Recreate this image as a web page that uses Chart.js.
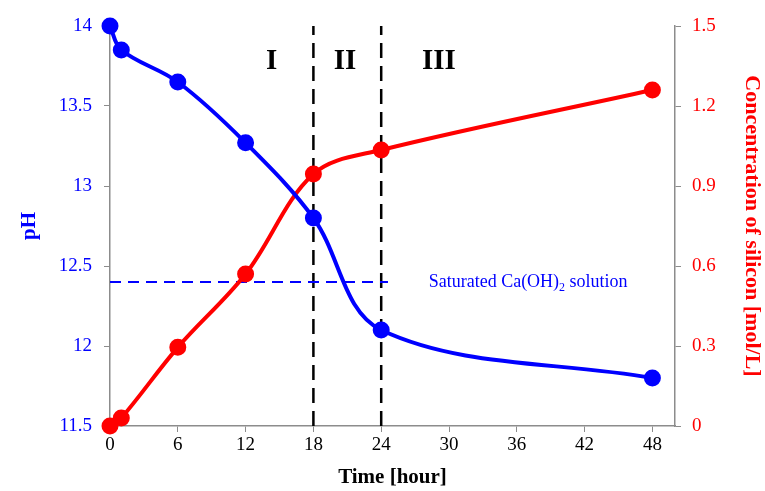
<!DOCTYPE html>
<html>
<head>
<meta charset="utf-8">
<script src="https://cdn.jsdelivr.net/npm/chart.js@4"></script>
<style>
  html, body { margin: 0; padding: 0; background: #fff; }
  #wrap { width: 765px; height: 491px; }
</style>
</head>
<body>
<div id="wrap"><canvas id="chart" width="765" height="491"></canvas></div>
<script>
// Data
const timeHours = [0, 1, 6, 12, 18, 24, 48];
const phValues = [14, 13.85, 13.65, 13.27, 12.8, 12.1, 11.8];
const siliconValues = [0, 0.03, 0.295, 0.57, 0.945, 1.035, 1.26];

const xTicks = [0, 6, 12, 18, 24, 30, 36, 42, 48];
const phTicks = [11.5, 12, 12.5, 13, 13.5, 14];
const siliconTicks = [0, 0.3, 0.6, 0.9, 1.2, 1.5];

// stage boundaries and saturated Ca(OH)2 level
const stageBounds = [18, 24];
const saturatedPH = 12.4;
const saturatedEnd = 24.6;

// stage labels (position in data units)
const stageLabels = ['I', 'II', 'III'];
const stageLabelX = [14.3, 20.8, 29.1];
const stageLabelY = 13.78;
const satLabelX = 28.2;

const serif = '"Liberation Serif", "Times New Roman", serif';
const BLUE = '#0000ff';
const RED = '#ff0000';
const AXIS = '#8c8c8c';

const toPoints = (xs, ys) => xs.map((x, i) => ({ x: x, y: ys[i] }));

const datasets = [
    {
        label: 'pH',
        data: toPoints(timeHours, phValues),
        yAxisID: 'y',
        borderColor: BLUE,
        backgroundColor: BLUE,
        borderWidth: 4,
        pointRadius: 6.5,
        pointHoverRadius: 6.5,
        tension: 0.35,
        clip: false
    },
    {
        label: 'Silicon',
        data: toPoints(timeHours, siliconValues),
        yAxisID: 'y1',
        borderColor: RED,
        backgroundColor: RED,
        borderWidth: 4,
        pointRadius: 6.5,
        pointHoverRadius: 6.5,
        tension: 0.35,
        clip: false
    },
    {
        label: 'Saturated',
        data: [{ x: 0, y: saturatedPH }, { x: saturatedEnd, y: saturatedPH }],
        yAxisID: 'y',
        borderColor: BLUE,
        borderWidth: 2,
        borderDash: [11, 7],
        pointRadius: 0,
        clip: false
    }
];

stageBounds.forEach(b => {
    datasets.push({
        label: 'bound' + b,
        data: [{ x: b, y: phTicks[0] }, { x: b, y: phTicks[phTicks.length - 1] }],
        yAxisID: 'y',
        borderColor: '#000',
        borderWidth: 2.5,
        borderDash: [15, 8],
        pointRadius: 0,
        clip: false
    });
});

// draw stage numerals and the Ca(OH)2 note
const labelPlugin = {
    id: 'labels',
    afterDatasetsDraw(chart) {
        const ctx = chart.ctx;
        const xs = chart.scales.x;
        const ys = chart.scales.y;
        ctx.save();
        ctx.fillStyle = '#000';
        ctx.font = 'bold 29px ' + serif;
        ctx.textAlign = 'center';
        ctx.textBaseline = 'middle';
        stageLabels.forEach((t, i) => {
            ctx.fillText(t, xs.getPixelForValue(stageLabelX[i]), ys.getPixelForValue(stageLabelY));
        });

        ctx.fillStyle = BLUE;
        ctx.textAlign = 'left';
        let px = xs.getPixelForValue(satLabelX);
        const py = ys.getPixelForValue(saturatedPH);
        ctx.font = '18px ' + serif;
        const part1 = 'Saturated Ca(OH)';
        ctx.fillText(part1, px, py);
        px += ctx.measureText(part1).width;
        ctx.font = '12px ' + serif;
        ctx.fillText('2', px, py + 6);
        px += ctx.measureText('2').width;
        ctx.font = '18px ' + serif;
        ctx.fillText(' solution', px, py);
        ctx.restore();
    }
};

const ctx = document.getElementById('chart').getContext('2d');
new Chart(ctx, {
    type: 'line',
    data: { datasets: datasets },
    options: {
        responsive: false,
        animation: false,
        layout: { padding: { top: 26, left: 0, right: 0, bottom: 0 } },
        plugins: {
            legend: { display: false },
            tooltip: { enabled: false }
        },
        scales: {
            x: {
                type: 'linear',
                min: 0,
                max: 50,
                afterBuildTicks: s => { s.ticks = xTicks.map(v => ({ value: v })); },
                afterFit: s => { s.height = 65; },
                border: { display: true, color: AXIS, width: 1.5 },
                grid: { drawOnChartArea: false, drawTicks: true, tickLength: 6, color: AXIS },
                ticks: { color: '#000', font: { family: serif, size: 19 }, padding: 2, maxRotation: 0 },
                title: {
                    display: true,
                    text: 'Time [hour]',
                    color: '#000',
                    font: { family: serif, size: 21, weight: 'bold' },
                    padding: { top: 0, bottom: 1 }
                }
            },
            y: {
                type: 'linear',
                position: 'left',
                min: 11.5,
                max: 14,
                afterBuildTicks: s => { s.ticks = phTicks.map(v => ({ value: v })); },
                afterFit: s => { s.width = 110; },
                border: { display: true, color: AXIS, width: 1.5 },
                grid: { drawOnChartArea: false, drawTicks: true, tickLength: 6, color: AXIS },
                ticks: {
                    color: BLUE,
                    font: { family: serif, size: 19 },
                    padding: 12,
                    callback: v => String(v)
                },
                title: {
                    display: true,
                    text: 'pH',
                    color: BLUE,
                    font: { family: serif, size: 21, weight: 'bold' },
                    padding: { top: 17, bottom: 0 }
                }
            },
            y1: {
                type: 'linear',
                position: 'right',
                min: 0,
                max: 1.5,
                afterBuildTicks: s => { s.ticks = siliconTicks.map(v => ({ value: v })); },
                afterFit: s => { s.width = 90; },
                border: { display: true, color: AXIS, width: 1.5 },
                grid: { drawOnChartArea: false, drawTicks: true, tickLength: 6, color: AXIS },
                ticks: {
                    color: RED,
                    font: { family: serif, size: 19 },
                    padding: 11,
                    callback: v => (v === 0 ? '0' : v.toFixed(1))
                },
                title: {
                    display: true,
                    text: 'Concentration of silicon [mol/L]',
                    color: RED,
                    font: { family: serif, size: 22, weight: 'bold' },
                    padding: { top: 0, bottom: 0 }
                }
            }
        }
    },
    plugins: [labelPlugin]
});
</script>
</body>
</html>
